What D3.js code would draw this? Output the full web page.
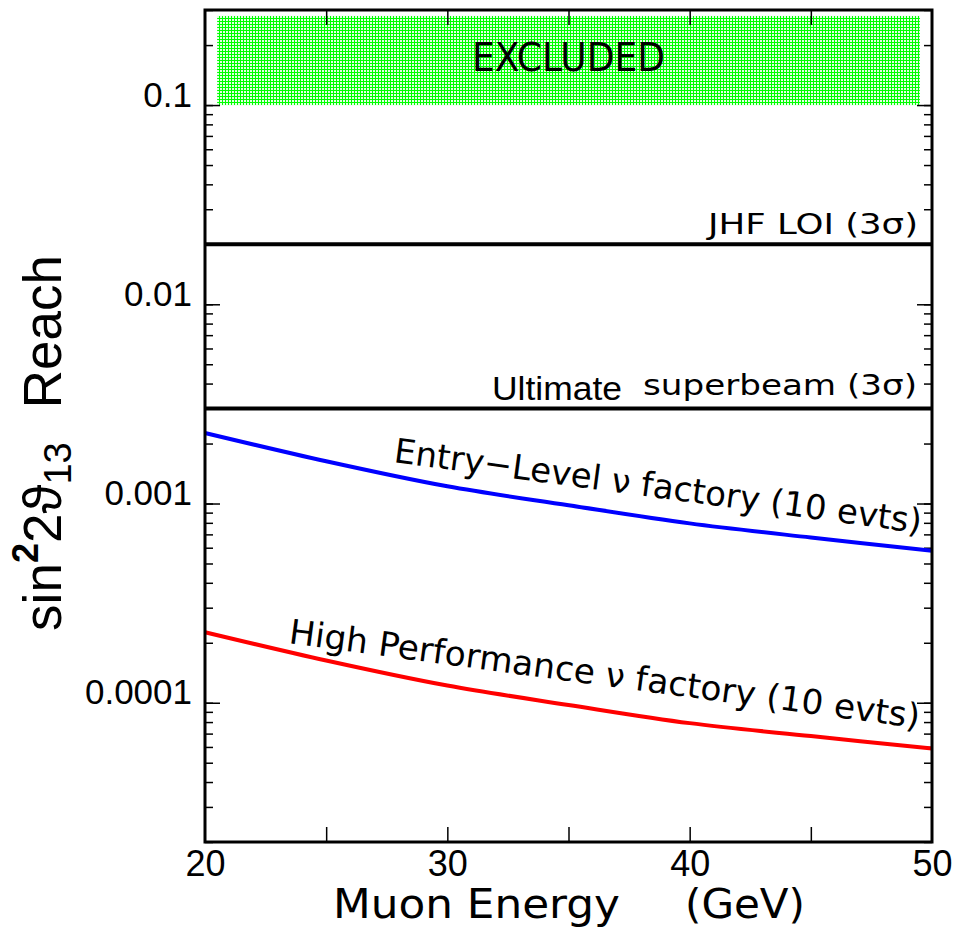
<!DOCTYPE html>
<html>
<head>
<meta charset="utf-8">
<script src="https://cdn.jsdelivr.net/npm/d3@7"></script>
<style>
  body { margin: 0; background: #fff; }
  svg { display: block; }
</style>
</head>
<body>
<svg width="956" height="932"></svg>
<script>
// muon energy (GeV) sampled along the curves
const energies = [20, 25, 30, 35, 40, 45, 50];
// sin^2 2theta13 reach
const entryLevel = [0.00226, 0.00163, 0.00122, 0.00098, 0.000795, 0.000675, 0.00058];
const highPerformance = [0.000226, 0.000163, 0.000122, 0.0000975, 0.000079, 0.000068, 0.000059];
// flat limits
const jhfLimit = 0.02;
const superbeamLimit = 0.003;
const excludedRange = [0.1, 0.28];
const excludedEnergy = [20.5, 49.5];
// axis ticks
const xTickValues = [20, 30, 40, 50];
const xTickLabels = ["20", "30", "40", "50"];
const xInnerTicks = [25, 30, 35, 40, 45];
const yTickValues = [0.1, 0.01, 0.001, 0.0001];
const yTickLabels = ["0.1", "0.01", "0.001", "0.0001"];

const svg = d3.select("svg");
const width = +svg.attr("width");
const height = +svg.attr("height");
const margin = {top: 10, right: 24, bottom: 90, left: 205};

const x = d3.scaleLinear().domain([20, 50]).range([margin.left, width - margin.right]);
const y = d3.scaleLog().domain([2e-5, 0.3]).range([height - margin.bottom, margin.top]);

// hatched green pattern for the excluded band
const defs = svg.append("defs");
const pat = defs.append("pattern")
  .attr("id", "grid")
  .attr("width", 3).attr("height", 3)
  .attr("patternUnits", "userSpaceOnUse");
pat.append("rect").attr("width", 3).attr("height", 3).attr("fill", "#e4ffe4");
pat.append("path").attr("d", "M0,0.5H3M0.5,0V3")
  .attr("stroke", "#00ff00").attr("stroke-width", 1);

svg.append("rect")
  .attr("x", x(excludedEnergy[0]))
  .attr("y", y(excludedRange[1]))
  .attr("width", x(excludedEnergy[1]) - x(excludedEnergy[0]))
  .attr("height", y(excludedRange[0]) - y(excludedRange[1]))
  .attr("fill", "url(#grid)");

svg.append("text")
  .attr("x", 472).attr("y", 71)
  .attr("textLength", 193).attr("lengthAdjust", "spacingAndGlyphs")
  .style("font-family", "DejaVu Sans").style("font-size", "39px")
  .text("EXCLUDED");

// ticks: inward on all four sides
function styleTicks(g) {
  g.select(".domain").remove();
  g.selectAll(".tick line").attr("stroke", "#000").attr("stroke-width", 1.5);
  g.selectAll("text").remove();
}
const minorY = y.ticks();
svg.append("g").attr("transform", `translate(${x(20)},0)`)
  .call(d3.axisRight(y).tickValues(minorY).tickSize(8)).call(styleTicks);
svg.append("g").attr("transform", `translate(${x(20)},0)`)
  .call(d3.axisRight(y).tickValues(yTickValues).tickSize(15)).call(styleTicks);
svg.append("g").attr("transform", `translate(${x(50)},0)`)
  .call(d3.axisLeft(y).tickValues(minorY).tickSize(8)).call(styleTicks);
svg.append("g").attr("transform", `translate(${x(50)},0)`)
  .call(d3.axisLeft(y).tickValues(yTickValues).tickSize(15)).call(styleTicks);
svg.append("g").attr("transform", `translate(0,${y.range()[1]})`)
  .call(d3.axisBottom(x).tickValues(xInnerTicks).tickSize(15)).call(styleTicks);
svg.append("g").attr("transform", `translate(0,${y.range()[0]})`)
  .call(d3.axisTop(x).tickValues(xInnerTicks).tickSize(15)).call(styleTicks);

// tick labels
const yLab = svg.append("g").attr("transform", `translate(${x(20)},0)`)
  .call(d3.axisLeft(y).tickValues(yTickValues).tickSize(0).tickPadding(13)
    .tickFormat((d, i) => yTickLabels[i]));
yLab.select(".domain").remove();
yLab.selectAll("text").attr("dy", "0.03em")
  .style("font-family", "Liberation Sans").style("font-size", "35px").attr("fill", "#000");

const xLab = svg.append("g").attr("transform", `translate(0,${y.range()[0]})`)
  .call(d3.axisBottom(x).tickValues(xTickValues).tickSize(0).tickPadding(8)
    .tickFormat((d, i) => xTickLabels[i]));
xLab.select(".domain").remove();
xLab.selectAll("text")
  .style("font-family", "Liberation Sans").style("font-size", "36px").attr("fill", "#000");

// flat limit lines
svg.append("line")
  .attr("x1", x(20)).attr("x2", x(50))
  .attr("y1", y(jhfLimit)).attr("y2", y(jhfLimit))
  .attr("stroke", "#000").attr("stroke-width", 4);
svg.append("line")
  .attr("x1", x(20)).attr("x2", x(50))
  .attr("y1", y(superbeamLimit)).attr("y2", y(superbeamLimit))
  .attr("stroke", "#000").attr("stroke-width", 4);

// curves
const line = d3.line()
  .x((d, i) => x(energies[i]))
  .y(d => y(d))
  .curve(d3.curveCatmullRom);
svg.append("path").datum(entryLevel)
  .attr("d", line).attr("fill", "none")
  .attr("stroke", "#0000ff").attr("stroke-width", 4);
svg.append("path").datum(highPerformance)
  .attr("d", line).attr("fill", "none")
  .attr("stroke", "#ff0000").attr("stroke-width", 4);

// frame
svg.append("rect")
  .attr("x", x(20)).attr("y", y.range()[1])
  .attr("width", x(50) - x(20)).attr("height", y.range()[0] - y.range()[1])
  .attr("fill", "none").attr("stroke", "#000").attr("stroke-width", 3);

// annotations
const ann = svg.append("g").style("font-family", "DejaVu Sans").attr("fill", "#000");
ann.append("text")
  .attr("x", 708).attr("y", 234)
  .attr("textLength", 210).attr("lengthAdjust", "spacingAndGlyphs")
  .style("font-size", "28px")
  .text("JHF LOI (3σ)");
ann.append("text")
  .attr("x", 492).attr("y", 400)
  .attr("textLength", 130).attr("lengthAdjust", "spacingAndGlyphs")
  .style("font-family", "Liberation Sans").style("font-size", "33px")
  .text("Ultimate");
ann.append("text")
  .attr("x", 643).attr("y", 395)
  .attr("textLength", 274).attr("lengthAdjust", "spacingAndGlyphs")
  .style("font-size", "29px")
  .text("superbeam (3σ)");
ann.append("text")
  .attr("transform", "translate(393,462) rotate(7.7)")
  .attr("textLength", 532).attr("lengthAdjust", "spacingAndGlyphs")
  .style("font-size", "34px")
  .text("Entry−Level ν factory (10 evts)");
ann.append("text")
  .attr("transform", "translate(288,643) rotate(7.7)")
  .attr("textLength", 636).attr("lengthAdjust", "spacingAndGlyphs")
  .style("font-size", "34px")
  .text("High Performance ν factory (10 evts)");

// axis titles
ann.append("text")
  .attr("x", 333).attr("y", 918)
  .attr("textLength", 287).attr("lengthAdjust", "spacingAndGlyphs")
  .style("font-size", "40px")
  .text("Muon Energy");
ann.append("text")
  .attr("x", 685).attr("y", 918)
  .attr("textLength", 120).attr("lengthAdjust", "spacingAndGlyphs")
  .style("font-size", "40px")
  .text("(GeV)");

const yt = svg.append("text")
  .attr("transform", "translate(61,443) rotate(-90)")
  .attr("text-anchor", "middle")
  .style("font-family", "Liberation Sans").style("font-size", "53px")
  .attr("fill", "#000");
yt.append("tspan").text("sin");
yt.append("tspan").attr("dy", -23).style("font-size", "36px").style("font-weight", "bold").text("2");
yt.append("tspan").attr("dy", 23).text("2ϑ");
yt.append("tspan").attr("dy", 10).style("font-size", "38px").text("13");
yt.append("tspan").attr("dy", -10).attr("dx", 34).text("Reach");
</script>
</body>
</html>
